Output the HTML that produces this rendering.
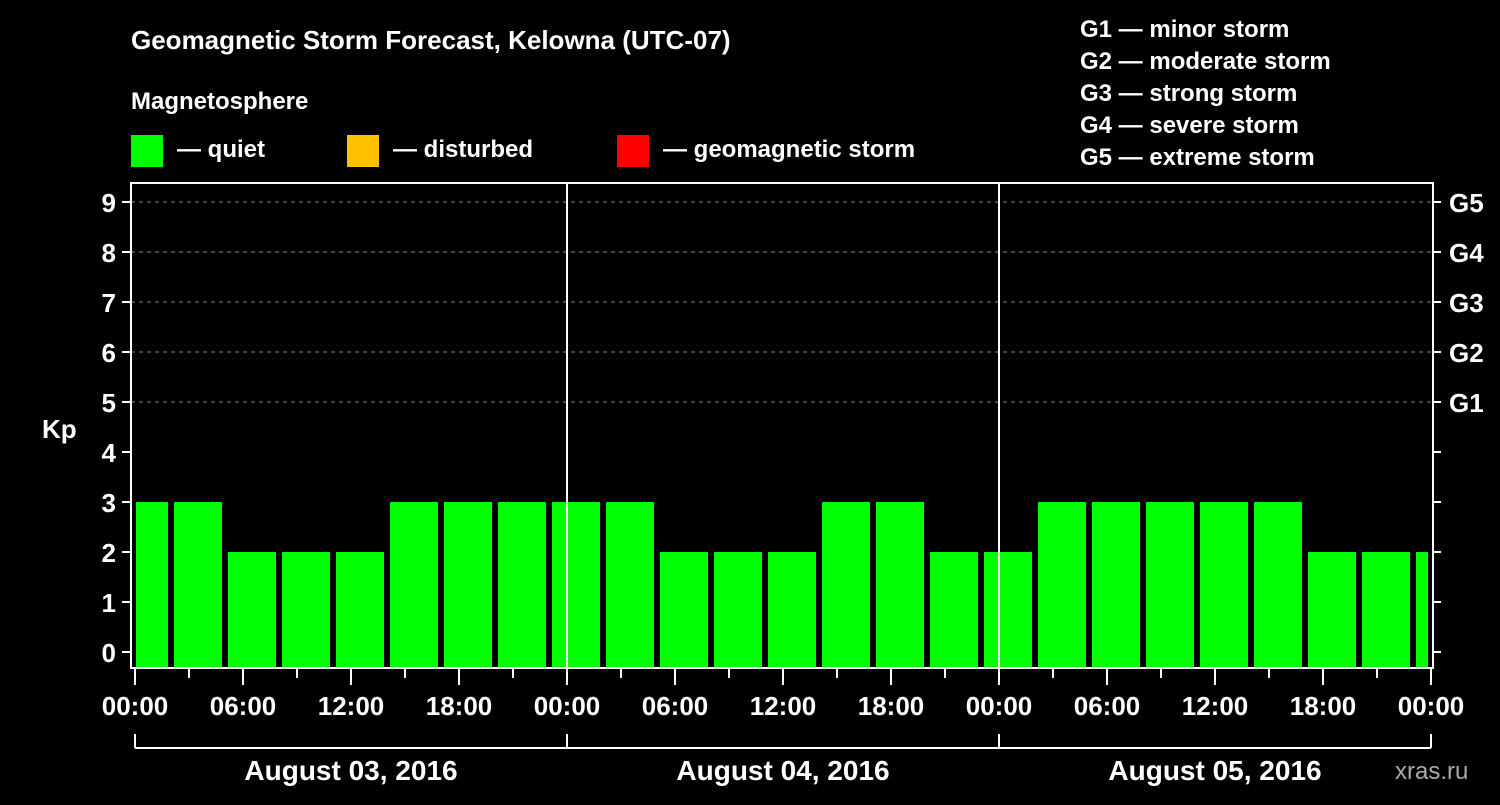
<!DOCTYPE html>
<html><head><meta charset="utf-8"><style>
body{margin:0;background:#000;width:1500px;height:800px;overflow:hidden}
svg text{font-family:"Liberation Sans",Arial,sans-serif;font-weight:bold;fill:#fff}
</style></head><body>
<svg id="chart" width="1500" height="800" viewBox="0 0 1500 800" xmlns="http://www.w3.org/2000/svg">
<rect width="1500" height="800" fill="#000"/>
<text x="131" y="49" font-size="26">Geomagnetic Storm Forecast, Kelowna (UTC-07)</text>
<text x="131" y="109" font-size="24">Magnetosphere</text>
<g><rect x="131" y="135" width="32" height="32" fill="#00ff00"/><text x="177" y="157" font-size="24">— quiet</text></g>
<g><rect x="347" y="135" width="32" height="32" fill="#ffc000"/><text x="393" y="157" font-size="24">— disturbed</text></g>
<g><rect x="617" y="135" width="32" height="32" fill="#ff0000"/><text x="663" y="157" font-size="24">— geomagnetic storm</text></g>
<g font-size="24">
<text x="1080" y="37">G1 — minor storm</text>
<text x="1080" y="69">G2 — moderate storm</text>
<text x="1080" y="101">G3 — strong storm</text>
<text x="1080" y="133">G4 — severe storm</text>
<text x="1080" y="165">G5 — extreme storm</text>
</g>
<text x="42" y="438" font-size="26">Kp</text>
<text x="1395" y="779" font-size="24" fill="#aaa" style="fill:#aaa;font-weight:normal">xras.ru</text>
<g id="grid"></g><g id="bars"></g><g id="axes"></g>
</svg>
<script>
const kpValues=[3,3,2,2,2,3,3,3,3,3,2,2,2,3,3,2,2,3,3,3,3,3,2,2,2];
const yTicks=[0,1,2,3,4,5,6,7,8,9];
const gLabels=["G1","G2","G3","G4","G5"];
const gLevels=[5,6,7,8,9];
const xTickLabels=["00:00","06:00","12:00","18:00","00:00","06:00","12:00","18:00","00:00","06:00","12:00","18:00","00:00"];
const dayLabels=["August 03, 2016","August 04, 2016","August 05, 2016"];
const NS="http://www.w3.org/2000/svg";
const X0=135,PXH=18,L=131,R=1433,T=183,B=668;
const xs=h=>X0+h*PXH;
const ys=v=>652-v*50;
function mk(tag,attrs,parent){const e=document.createElementNS(NS,tag);for(const k in attrs)e.setAttribute(k,attrs[k]);parent.appendChild(e);return e;}
const grid=document.getElementById('grid'),bars=document.getElementById('bars'),axes=document.getElementById('axes');
gLevels.forEach((v,i)=>{
 const l=mk('line',{x1:L,x2:R,y1:ys(v),y2:ys(v),stroke:'#888','stroke-dasharray':'4,4','stroke-width':1},grid);
 
 
 const t=mk('text',{x:1449,y:ys(v)+10,'font-size':26},axes);t.textContent=gLabels[i];
 
 
});
kpValues.forEach((v,k)=>{
 let x1=xs(3*k-1)+3,x2=xs(3*k+2)-3;
 x1=Math.max(x1,L+5);x2=Math.min(x2,R-5);
 const c=v>=5?'#ff0000':(v>=4?'#ffc000':'#00ff00');
 const r=mk('rect',{x:x1,y:ys(v),width:x2-x1,height:B-ys(v),fill:c},bars);
 
 
});
[1,2].forEach(d=>{const l=mk('line',{x1:xs(24*d),x2:xs(24*d),y1:T,y2:B,stroke:'#fff','stroke-width':2},axes);
 
 });
const frame=mk('rect',{x:L,y:T,width:R-L,height:B-T,fill:'none',stroke:'#fff','stroke-width':2},axes);


yTicks.forEach(v=>{
 mk('line',{x1:122,x2:L,y1:ys(v),y2:ys(v),stroke:'#fff','stroke-width':2},axes);
 mk('line',{x1:R,x2:1441,y1:ys(v),y2:ys(v),stroke:'#fff','stroke-width':2},axes);
 const t=mk('text',{x:116,y:ys(v)+10,'font-size':26,'text-anchor':'end'},axes);t.textContent=v;
 
 
});
for(let h=0;h<=72;h+=3){
 const long=h%6==0;
 mk('line',{x1:xs(h),x2:xs(h),y1:B,y2:long?685:678,stroke:'#fff','stroke-width':2},axes);
}
xTickLabels.forEach((s,i)=>{const t=mk('text',{x:xs(6*i),y:715,'font-size':26,'text-anchor':'middle'},axes);t.textContent=s;
 
 });
mk('line',{x1:xs(0),x2:xs(72),y1:748,y2:748,stroke:'#fff','stroke-width':2},axes);
for(let d=0;d<=3;d++)mk('line',{x1:xs(24*d),x2:xs(24*d),y1:734,y2:748,stroke:'#fff','stroke-width':2},axes);
dayLabels.forEach((s,d)=>{const t=mk('text',{x:xs(24*d+12),y:780,'font-size':28,'text-anchor':'middle'},axes);t.textContent=s;
 
 });
</script>
</body></html>
